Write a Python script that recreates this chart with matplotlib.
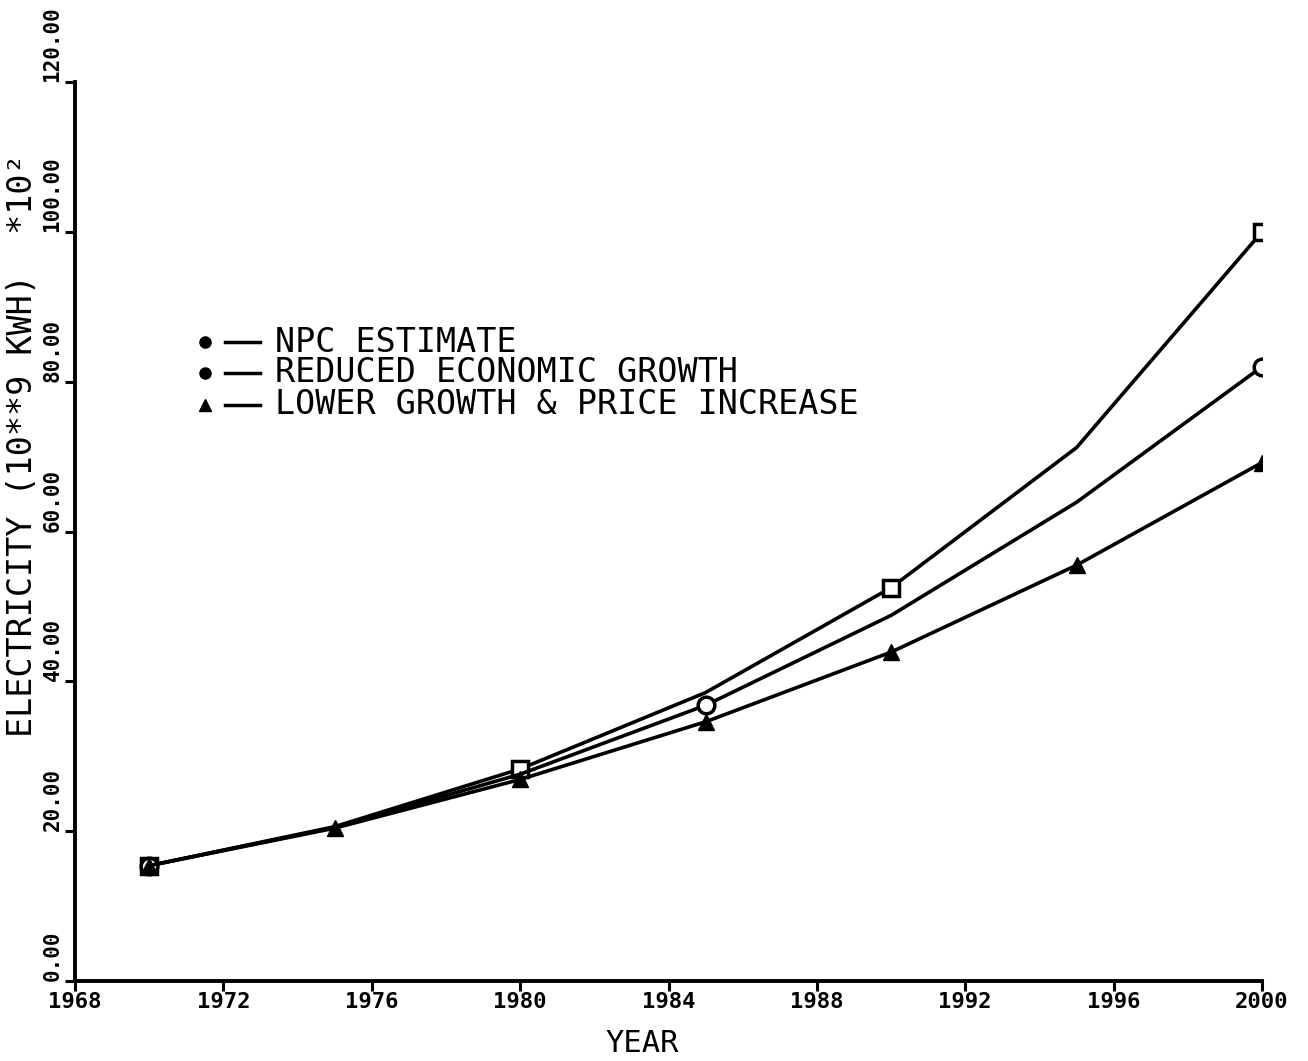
import matplotlib
matplotlib.use("Agg")
import matplotlib.pyplot as plt
from matplotlib.lines import Line2D

plt.rcParams['font.family'] = ['DejaVu Sans Mono', 'DejaVu Sans']

# electricity demand scenarios, units of 10**9 KWH x 10^2
years = [1970, 1975, 1980, 1985, 1990, 1995, 2000]
npc_estimate = [15.4, 20.6, 28.3, 38.5, 52.5, 71.2, 100.0]
reduced_growth = [15.4, 20.5, 27.6, 36.8, 48.8, 63.9, 82.0]
lower_growth_price = [15.4, 20.4, 26.9, 34.6, 43.9, 55.5, 69.2]

series_names = ["NPC ESTIMATE", "REDUCED ECONOMIC GROWTH",
                "LOWER GROWTH & PRICE INCREASE"]
xticks = [1968, 1972, 1976, 1980, 1984, 1988, 1992, 1996, 2000]
yticks = [0, 20, 40, 60, 80, 100, 120]

W, H = 1308, 1061
fig = plt.figure(figsize=(W / 100, H / 100), dpi=100)
ax = fig.add_axes([75 / W, 1 - 981 / H, (1262 - 75) / W, (981 - 82) / H])

lw = 2.6
ax.plot(years, npc_estimate, color="black", lw=lw, marker="s", ms=12,
        mfc="white", mec="black", mew=2.5, markevery=[0, 2, 4, 6], zorder=3)
ax.plot(years, reduced_growth, color="black", lw=lw, marker="o", ms=12,
        mfc="white", mec="black", mew=2.5, markevery=[0, 3, 6], zorder=3)
ax.plot(years, lower_growth_price, color="black", lw=lw, marker="^", ms=11,
        mfc="black", mec="black", markevery=[0, 1, 2, 3, 4, 5, 6], zorder=4)

ax.set_xlim(1968, 2000)
ax.set_ylim(0, 120)
for side in ["top", "right"]:
    ax.spines[side].set_visible(False)
for side in ["left", "bottom"]:
    ax.spines[side].set_linewidth(2.8)

ax.set_xticks(xticks)
ax.set_xticklabels([str(x) for x in xticks], fontsize=16, fontweight="bold")
ax.tick_params(axis="x", direction="out", length=7, width=2.2, pad=1)

ax.set_yticks(yticks)
ax.set_yticklabels(["%.2f" % y for y in yticks], fontsize=15,
                   fontweight="bold", rotation=90, va="bottom")
ax.tick_params(axis="y", direction="out", length=7, width=2.2, pad=2)

fig.text(642 / W, 1 - 1044 / H, "YEAR", fontsize=22,
         ha="center", va="center")
fig.text(23 / W, 1 - 737 / H, "ELECTRICITY (10**9 KWH)  *10\u00b2",
         rotation=90, ha="center", va="bottom", fontsize=24)

# legend drawn by hand: marker, short dash, label
legend_rows = [342, 373, 405]
legend_markers = ["o", "o", "^"]
for name, mk, ypix in zip(series_names, legend_markers, legend_rows):
    yf = 1 - ypix / H
    fig.add_artist(Line2D([205 / W], [yf], marker=mk, ms=8, color="black",
                          ls="none", transform=fig.transFigure))
    fig.add_artist(Line2D([225 / W, 260 / W], [yf, yf], lw=2.5,
                          color="black", transform=fig.transFigure))
    fig.text(275 / W, yf, name, fontsize=24, ha="left", va="center")

fig.savefig("out.png", dpi=100, facecolor="white")
